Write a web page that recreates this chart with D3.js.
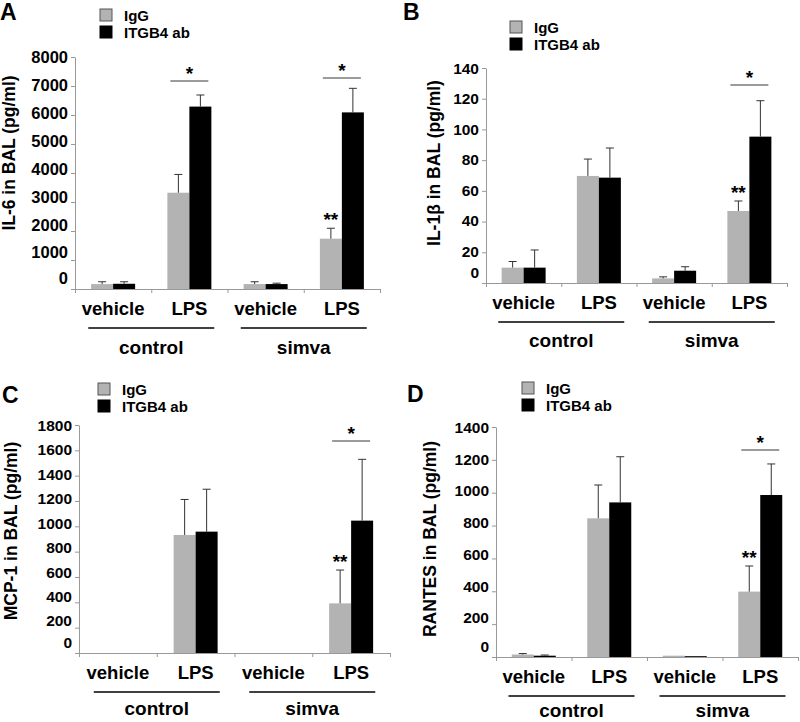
<!DOCTYPE html>
<html><head><meta charset="utf-8">
<script src="https://cdn.jsdelivr.net/npm/d3@7"></script>
<style>
body{margin:0;background:#fff;}
svg{display:block;font-family:"Liberation Sans",Arial,sans-serif;font-weight:bold;}
</style></head>
<body>
<svg id="chart" width="800" height="722"></svg>
<script>
// ---------- data ----------
const groups = ["control", "simva"];
const treatments = ["vehicle", "LPS"];
const categories = ["control vehicle", "control LPS", "simva vehicle", "simva LPS"];
const series = ["IgG", "ITGB4 ab"];

const il6IgG = [170, 3320, 170, 1735];
const il6IgGErr = [80, 630, 80, 360];
const il6Itgb4 = [180, 6290, 170, 6090];
const il6Itgb4Err = [70, 400, 30, 830];
const il6Ticks = [0, 1000, 2000, 3000, 4000, 5000, 6000, 7000, 8000];

const il1bIgG = [10, 69.7, 3, 46.9];
const il1bIgGErr = [4, 11, 1, 6.5];
const il1bItgb4 = [10, 68.6, 8, 95.3];
const il1bItgb4Err = [11.5, 19.3, 2.6, 23.4];
const il1bTicks = [0, 20, 40, 60, 80, 100, 120, 140];

const mcp1IgG = [0, 932, 0, 392];
const mcp1IgGErr = [0, 280, 0, 263];
const mcp1Itgb4 = [0, 958, 0, 1045];
const mcp1Itgb4Err = [0, 335, 0, 484];
const mcp1Ticks = [0, 200, 400, 600, 800, 1000, 1200, 1400, 1600, 1800];

const rantesIgG = [15, 844, 8, 398];
const rantesIgGErr = [6, 203, 0, 156];
const rantesItgb4 = [8, 941, 5, 986];
const rantesItgb4Err = [4, 278, 0, 189];
const rantesTicks = [0, 200, 400, 600, 800, 1000, 1200, 1400];

// significance bar levels (data units): [control LPS, simva LPS]; null = none
const il6Sig = [7170, 7280];
const il1bSig = [null, 128.9];
const mcp1Sig = [null, 1673];
const rantesSig = [null, 1260];

const panels = [
  {letter:"A", title:"IL-6 in BAL (pg/ml)", igg:il6IgG, iggErr:il6IgGErr, itg:il6Itgb4, itgErr:il6Itgb4Err, ticks:il6Ticks, sig:il6Sig,
   x0:75, x1:380, yTop:57, yBase:289, letterXY:[0,20], legXY:[100,9], titleXY:[9,153], drift:9, tickFont:16.5, grpOff:58},
  {letter:"B", title:"IL-1\u03b2 in BAL (pg/ml)", igg:il1bIgG, iggErr:il1bIgGErr, itg:il1bItgb4, itgErr:il1bItgb4Err, ticks:il1bTicks, sig:il1bSig,
   x0:486, x1:787, yTop:68, yBase:283, letterXY:[403,20], legXY:[510,21], titleXY:[434,163], drift:2, tickFont:15.5, grpOff:57},
  {letter:"C", title:"MCP-1 in BAL (pg/ml)", igg:mcp1IgG, iggErr:mcp1IgGErr, itg:mcp1Itgb4, itgErr:mcp1Itgb4Err, ticks:mcp1Ticks, sig:mcp1Sig,
   x0:79, x1:390, yTop:425, yBase:653, letterXY:[2,403], legXY:[98,383], titleXY:[11,531], drift:8, tickFont:15.5, grpOff:55},
  {letter:"D", title:"RANTES in BAL (pg/ml)", igg:rantesIgG, iggErr:rantesIgGErr, itg:rantesItgb4, itgErr:rantesItgb4Err, ticks:rantesTicks, sig:rantesSig,
   x0:496, x1:798, yTop:427, yBase:657, letterXY:[407,402], legXY:[522,382], titleXY:[430,539], drift:8, tickFont:15.5, grpOff:53}
];

const grayFill = "#b3b3b3";
const colors = {"IgG": grayFill, "ITGB4 ab": "#000"};
const svg = d3.select("#chart");

panels.forEach(p => {
  const g = svg.append("g");
  const maxT = d3.max(p.ticks);
  const y = d3.scaleLinear().domain([0, maxT]).range([p.yBase, p.yTop]);
  const x = d3.scaleBand().domain(categories).range([p.x0, p.x1]).padding(0);
  const bw = x.bandwidth();
  const xs = d3.scaleBand().domain(series).range([bw/2 - 22, bw/2 + 22]).padding(0);

  // panel letter
  g.append("text").attr("x", p.letterXY[0]).attr("y", p.letterXY[1])
    .attr("font-size", 23).attr("fill", "#000").text(p.letter);

  // legend
  series.forEach((s, i) => {
    const ly = p.legXY[1] + i*17;
    g.append("rect").attr("x", p.legXY[0]).attr("y", ly).attr("width", 12).attr("height", 12)
      .attr("fill", colors[s]).attr("stroke", i === 0 ? "#555" : "#000").attr("stroke-width", 1);
    g.append("text").attr("x", p.legXY[0] + 24).attr("y", ly + 6).attr("dominant-baseline", "central")
      .attr("font-size", 15).attr("fill", "#000").text(s);
  });

  // y axis
  const ya = g.append("g").attr("transform", `translate(${p.x0},0)`)
    .call(d3.axisLeft(y).tickValues(p.ticks).tickFormat(d3.format("d")).tickSize(4).tickSizeOuter(0).tickPadding(3));
  ya.select(".domain").attr("stroke", "#999");
  ya.selectAll(".tick line").attr("stroke", "#999");
  ya.selectAll(".tick text").attr("font-size", p.tickFont).attr("font-family", "Liberation Sans, Arial, sans-serif")
    .attr("font-weight", "bold").attr("fill", "#000")
    .attr("dy", "0.35em")
    .attr("transform", d => d === 0 ? "translate(0,-11)" : `translate(0,${-p.drift*(1 - d/maxT)})`);

  // x axis (category boundaries)
  const xb = d3.scaleLinear().domain([0, categories.length]).range([p.x0, p.x1]);
  const xa = g.append("g").attr("transform", `translate(0,${p.yBase})`)
    .call(d3.axisBottom(xb).tickValues(d3.range(categories.length + 1)).tickSize(4).tickSizeOuter(0).tickFormat(""));
  xa.select(".domain").attr("stroke", "#999");
  xa.selectAll(".tick line").attr("stroke", "#999");

  // bars
  const rows = categories.map((c, i) => ({c, vals:[
    {s:"IgG", v:p.igg[i], e:p.iggErr[i]},
    {s:"ITGB4 ab", v:p.itg[i], e:p.itgErr[i]}]}));
  const cg = g.selectAll(".cat").data(rows).join("g").attr("transform", d => `translate(${x(d.c)},0)`);
  cg.selectAll("rect").data(d => d.vals).join("rect")
    .attr("x", d => xs(d.s)).attr("width", xs.bandwidth())
    .attr("y", d => y(d.v)).attr("height", d => y(0) - y(d.v))
    .attr("fill", d => colors[d.s]);
  // error bars (upper)
  const eb = cg.selectAll(".err").data(d => d.vals.filter(v => v.e > 0)).join("g").attr("class", "err");
  eb.append("line").attr("x1", d => xs(d.s) + xs.bandwidth()/2).attr("x2", d => xs(d.s) + xs.bandwidth()/2)
    .attr("y1", d => y(d.v)).attr("y2", d => y(d.v + d.e)).attr("stroke", "#333").attr("stroke-width", 1);
  eb.append("line").attr("x1", d => xs(d.s) + xs.bandwidth()/2 - 4).attr("x2", d => xs(d.s) + xs.bandwidth()/2 + 4)
    .attr("y1", d => y(d.v + d.e)).attr("y2", d => y(d.v + d.e)).attr("stroke", "#333").attr("stroke-width", 1);

  // ** above simva LPS IgG
  const sl = categories[3];
  g.append("text").attr("x", x(sl) + xs("IgG") + xs.bandwidth()/2).attr("y", y(p.igg[3] + p.iggErr[3]) - 2)
    .attr("text-anchor", "middle").attr("font-size", 19).attr("fill", "#000").text("**");

  // significance bars over LPS pairs
  [1, 3].forEach((ci, k) => {
    const lv = p.sig[k];
    if (lv == null) return;
    const cx = x(categories[ci]) + bw/2;
    g.append("line").attr("x1", cx - 19).attr("x2", cx + 19).attr("y1", y(lv)).attr("y2", y(lv))
      .attr("stroke", "#7a7a7a").attr("stroke-width", 1.5);
    g.append("text").attr("x", cx).attr("y", y(lv) - 1).attr("text-anchor", "middle")
      .attr("font-size", 19).attr("fill", "#000").text("*");
  });

  // treatment labels
  categories.forEach((c, i) => {
    g.append("text").attr("x", x(c) + bw/2).attr("y", p.yBase + 19).attr("dominant-baseline", "central")
      .attr("text-anchor", "middle").attr("font-size", 18.5).attr("fill", "#000").text(treatments[i % 2]);
  });
  // group lines and labels
  groups.forEach((gr, k) => {
    const cx = (x(categories[k*2]) + x(categories[k*2+1]) + bw) / 2;
    g.append("line").attr("x1", cx - 63).attr("x2", cx + 63).attr("y1", p.yBase + 39).attr("y2", p.yBase + 39)
      .attr("stroke", "#000").attr("stroke-width", 1.5);
    g.append("text").attr("x", cx).attr("y", p.yBase + p.grpOff).attr("dominant-baseline", "central")
      .attr("text-anchor", "middle").attr("font-size", 19).attr("fill", "#000").text(gr);
  });

  // y title
  g.append("text").attr("transform", `translate(${p.titleXY[0]},${p.titleXY[1]}) rotate(-90)`)
    .attr("text-anchor", "middle").attr("dominant-baseline", "central")
    .attr("font-size", 17.5).attr("fill", "#000").text(p.title);
});
</script>
</body></html>
